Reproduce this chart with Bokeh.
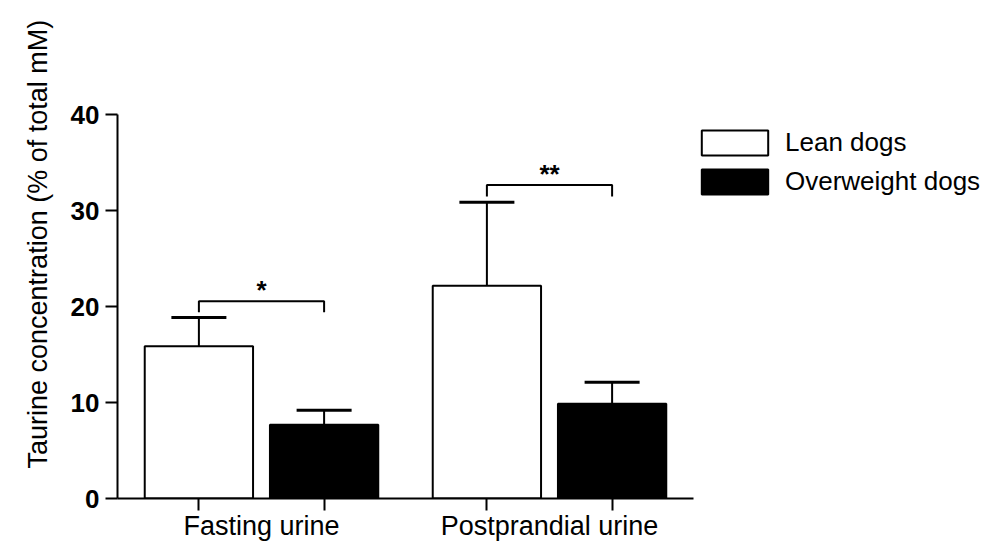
from bokeh.plotting import figure
from bokeh.models import (ColumnDataSource, FactorRange, Whisker, TeeHead, Legend,
                          LegendItem, Title, Range1d, FixedTicker)
from bokeh.core.properties import value
from bokeh.embed import file_html
from bokeh.resources import INLINE

# ---- data ----
categories = ["Fasting urine", "Postprandial urine"]
groups = ["Lean dogs", "Overweight dogs"]
lean_mean = [15.85, 22.15]
lean_sem = [3.0, 8.7]
overweight_mean = [7.67, 9.86]
overweight_sem = [1.53, 2.25]
bracket_top = [20.55, 32.65]
bracket_drop = [1.15, 1.2]
significance = ["*", "**"]
y_ticks = [0, 10, 20, 30, 40]
y_label = "Taurine concentration (% of total mM)"

FONT = "Liberation Sans"

factors = [(c, g) for c in categories for g in groups]
# empty spacer group so the plotting area extends under the legend
spacer = [("", " "), ("", "  ")]

p = figure(
    x_range=FactorRange(*factors, *spacer, factor_padding=0.0, group_padding=0.3,
                        range_padding=0.15, range_padding_units="absolute"),
    y_range=Range1d(0, 40),
    width=984, height=543,
    output_backend="svg", toolbar_location=None,
    min_border_left=117, min_border_right=3,
    min_border_top=114, min_border_bottom=45,
)

lean_src = ColumnDataSource(dict(
    x=[(c, groups[0]) for c in categories],
    top=lean_mean,
    upper=[m + s for m, s in zip(lean_mean, lean_sem)],
))
ow_src = ColumnDataSource(dict(
    x=[(c, groups[1]) for c in categories],
    top=overweight_mean,
    upper=[m + s for m, s in zip(overweight_mean, overweight_sem)],
))

r_lean = p.vbar(x="x", top="top", width=0.865, source=lean_src,
                fill_color="white", line_color="black", line_width=2)
r_ow = p.vbar(x="x", top="top", width=0.865, source=ow_src,
              fill_color="black", line_color="black", line_width=2)

for src in (lean_src, ow_src):
    w = Whisker(base="x", upper="upper", lower="top", source=src,
                line_color="black", line_width=2, lower_head=None,
                upper_head=TeeHead(size=55, line_width=3, line_color="black"))
    p.add_layout(w)

# significance brackets
xs = [[(c, groups[0]), (c, groups[0]), (c, groups[1]), (c, groups[1])] for c in categories]
ys = [[t - d, t, t, t - d] for t, d in zip(bracket_top, bracket_drop)]
p.multi_line(xs, ys, line_color="black", line_width=2)
p.text(x=categories, y=bracket_top, text=significance, text_align="center",
       text_baseline="middle", y_offset=-11, text_font=value(FONT),
       text_font_style="bold", text_font_size="26px", text_color="black")

# legend
legend = Legend(
    items=[LegendItem(label=groups[0], renderers=[r_lean]),
           LegendItem(label=groups[1], renderers=[r_ow])],
    location=(576, 301), glyph_width=83, glyph_height=31, spacing=8,
    padding=0, margin=0, label_standoff=9, label_text_font=FONT,
    label_text_font_size="26px", label_text_color="black",
    border_line_color=None, background_fill_alpha=0,
)
p.add_layout(legend)

# y axis label as a side title
p.add_layout(Title(text=y_label, align="left", offset=30, text_font=FONT,
                   text_font_size="27px", text_font_style="normal",
                   text_color="black", standoff=29), "left")

# axes styling
p.yaxis.ticker = FixedTicker(ticks=y_ticks)
p.yaxis.minor_tick_line_color = None
p.yaxis.major_tick_out = 12
p.yaxis.major_tick_in = 0
p.yaxis.major_tick_line_width = 2
p.yaxis.axis_line_width = 2
p.yaxis.major_label_text_font = FONT
p.yaxis.major_label_text_font_style = "bold"
p.yaxis.major_label_text_font_size = "26px"
p.yaxis.major_label_text_color = "black"
p.yaxis.major_label_standoff = 6

p.xaxis.bounds = (-0.15, 4.45)
p.xaxis.major_tick_out = 12
p.xaxis.major_tick_in = 0
p.xaxis.major_tick_line_width = 2
p.xaxis.axis_line_width = 2
p.xaxis.major_label_text_font_size = "1px"
p.xaxis.major_label_text_color = None
p.xaxis.major_label_standoff = 0
p.xaxis.group_text_font = FONT
p.xaxis.group_text_font_size = "27px"
p.xaxis.group_text_font_style = "normal"
p.xaxis.group_text_color = "black"
p.xaxis.separator_line_color = None

p.xgrid.grid_line_color = None
p.ygrid.grid_line_color = None
p.outline_line_color = None

open("out.html", "w").write(file_html(p, INLINE))
